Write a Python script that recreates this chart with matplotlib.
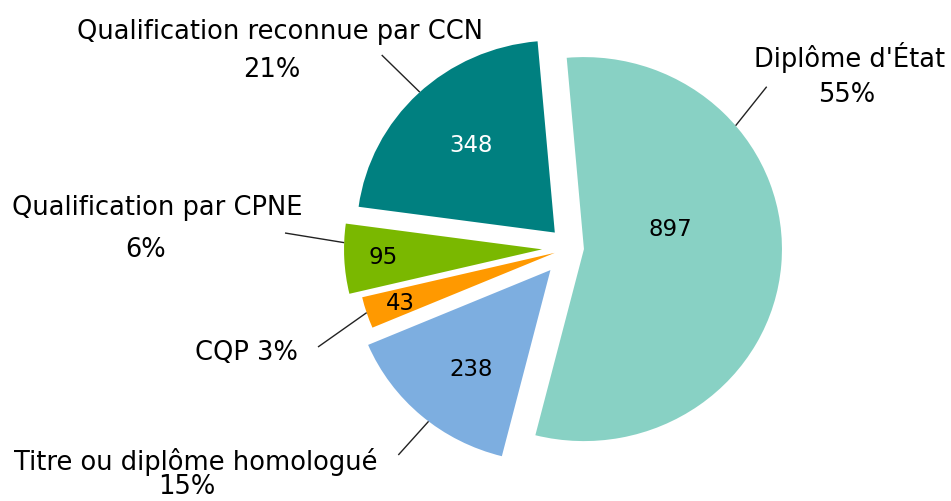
import numpy as np
import matplotlib
matplotlib.use("Agg")
import matplotlib.pyplot as plt

# ---- data ----
categories = ["Diplôme d'État", "Titre ou diplôme homologué", "CQP",
              "Qualification par CPNE", "Qualification reconnue par CCN"]
values = [897, 238, 43, 95, 348]
pct_labels = ["55%", "15%", "3%", "6%", "21%"]
colors = ["#88D1C4", "#7DAEE0", "#FF9900", "#7AB800", "#008080"]
value_colors = ["black", "black", "black", "black", "white"]

# ---- layout ----
W, H = 951, 501
R = 198
S = R / 192.0          # vertical squeeze of the pie (ellipse)


def Y(ypx):
    return (H - ypx) * S


fig = plt.figure(figsize=(W / 100, H / 100), dpi=100)
ax = fig.add_axes([0, 0, 1, 1])
explode_px = [14, 30, 16, 28, 22]
wedges, _ = ax.pie(values, colors=colors, startangle=95, counterclock=False,
                   radius=R, center=(570, Y(248)),
                   explode=explode_px,
                   wedgeprops=dict(linewidth=0))
ax.set_aspect("auto")
ax.set_xlim(0, W)
ax.set_ylim(0, H * S)
ax.axis("off")

FS = 18.5
FSV = 16.5
font = "DejaVu Sans"

# value labels inside slices (pixel positions)
value_pos = [(670, 229), (471, 369), (400, 304), (383, 258), (471, 145)]
for v, (px, py), c in zip(values, value_pos, value_colors):
    ax.text(px, Y(py), str(v), ha="center", va="center", fontsize=FSV,
            color=c, family=font)

# category labels: (lines, centers, baselines)
label_lines = [
    [(categories[0], 850, 67), (pct_labels[0], 847, 102)],
    [(categories[1], 196, 470), (pct_labels[1], 187, 494)],
    [(categories[2] + " " + pct_labels[2], 246.5, 360)],
    [(categories[3], 157.5, 215), (pct_labels[3], 146, 257)],
    [(categories[4], 280, 39), (pct_labels[4], 271.5, 77)],
]
for lines in label_lines:
    for t, px, py in lines:
        ax.text(px, Y(py), t, ha="center", va="baseline", fontsize=FS,
                color="black", family=font)

# leader lines: from a point on the wedge arc to the label
leader_angles = [40, 232, None, 178, 133]
leader_ends = [(766.7, 86.7), (398.3, 455), (318, 347), (285, 233), (381.7, 55)]
for w, ang, (ex, ey) in zip(wedges, leader_angles, leader_ends):
    if ang is None:
        ang = 0.5 * (w.theta1 + w.theta2)
    cx, cy = w.center
    a = np.deg2rad(ang)
    x0, y0 = cx + w.r * np.cos(a), cy + w.r * np.sin(a)
    ax.plot([x0, ex], [y0, Y(ey)], color="#222222", lw=1.0,
            solid_capstyle="butt")

fig.savefig("out.png", dpi=100)
